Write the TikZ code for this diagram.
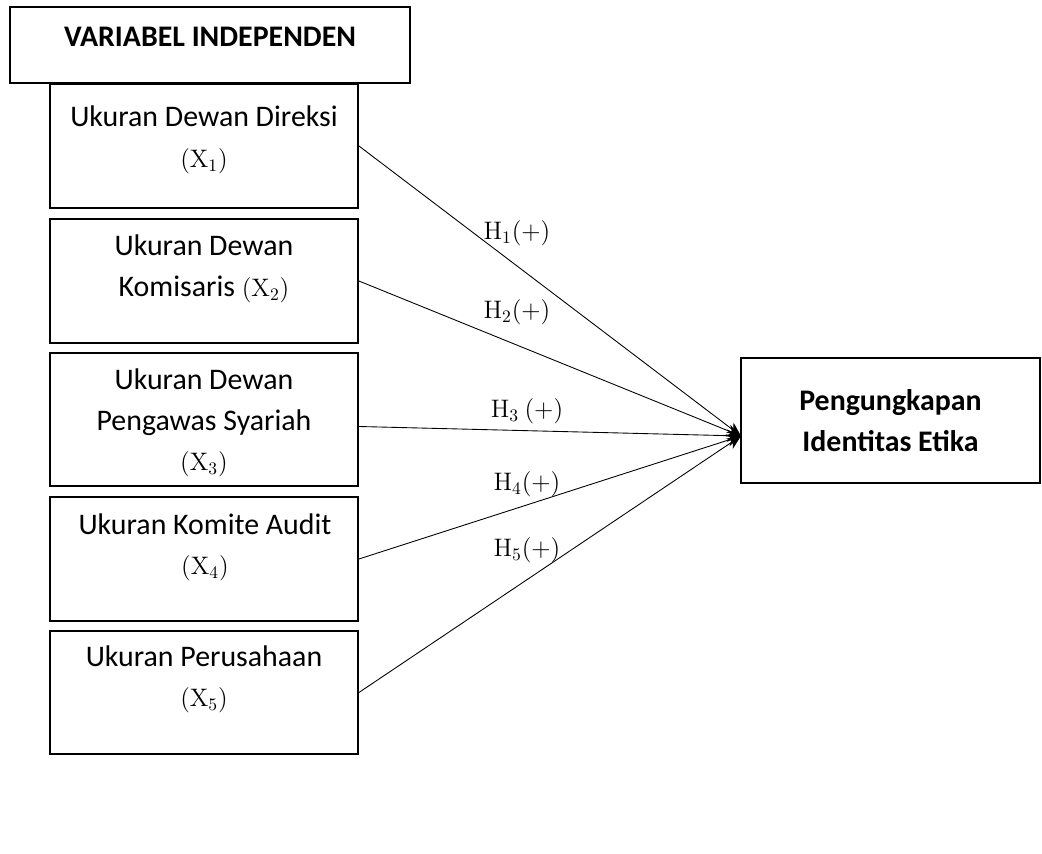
\documentclass[tikz,border=0pt]{standalone}
\usepackage[no-math]{fontspec}
\setmainfont{Carlito}
\usetikzlibrary{arrows.meta}
\newcommand{\xvar}[1]{{\fontsize{14.5}{23}\selectfont$(\mathrm{X}_{#1})$}}

\begin{document}
\begin{tikzpicture}[x=0.02cm,y=-0.02cm,
  varbox/.style={draw,line width=1.1pt,inner sep=0pt},
  vartext/.style={align=center,font=\fontsize{17}{23}\selectfont},
  hyplabel/.style={font=\fontsize{14}{16}\selectfont},
  link/.style={-{Stealth[length=8pt,width=7pt]},line width=0.5pt}]
\useasboundingbox (0,0) rectangle (1042,854);
\node (head) [varbox,minimum width=8cm,minimum height=1.52cm] at (210,45) {};
\node (headtext) [vartext] at (210,37) {\bfseries VARIABEL INDEPENDEN};
\node (x1) [varbox,minimum width=6.16cm,minimum height=2.48cm] at (204,146) {};
\node (x2) [varbox,minimum width=6.16cm,minimum height=2.48cm] at (204,281) {};
\node (x3) [varbox,minimum width=6.16cm,minimum height=2.66cm] at (204,419.5) {};
\node (x4) [varbox,minimum width=6.16cm,minimum height=2.48cm] at (204,559) {};
\node (x5) [varbox,minimum width=6.16cm,minimum height=2.46cm] at (204,692.5) {};
\node (x1t) [vartext] at (204,140) {Ukuran Dewan Direksi\\\xvar{1}};
\node (x2t) [vartext] at (204,269) {Ukuran Dewan\\Komisaris \xvar{2}};
\node (x3t) [vartext] at (204,423) {Ukuran Dewan\\Pengawas Syariah\\\xvar{3}};
\node (x4t) [vartext] at (205,547) {Ukuran Komite Audit\\\xvar{4}};
\node (x5t) [vartext] at (204,679) {Ukuran Perusahaan\\\xvar{5}};
\node (y) [varbox,vartext,font=\fontsize{17}{23}\selectfont\bfseries,minimum width=5.98cm,minimum height=2.5cm] at (890.5,420.5) {Pengungkapan\\Identitas Etika};
\coordinate (yin) at (741,436);
\draw[link] (x1.east) -- (yin);
\draw[link] (x2.east) -- (yin);
\draw[link] ([yshift=-0.14cm]x3.east) -- (yin);
\draw[link] (x4.east) -- (yin);
\draw[link] (x5.east) -- (yin);
\node (h1) [hyplabel] at (517,233) {$\mathrm{H}_1(+)$};
\node (h2) [hyplabel] at (517,312) {$\mathrm{H}_2(+)$};
\node (h3) [hyplabel] at (527,411) {$\mathrm{H}_3$ $(+)$};
\node (h4) [hyplabel] at (527,484) {$\mathrm{H}_4(+)$};
\node (h5) [hyplabel] at (527,550) {$\mathrm{H}_5(+)$};
\end{tikzpicture}
\end{document}
